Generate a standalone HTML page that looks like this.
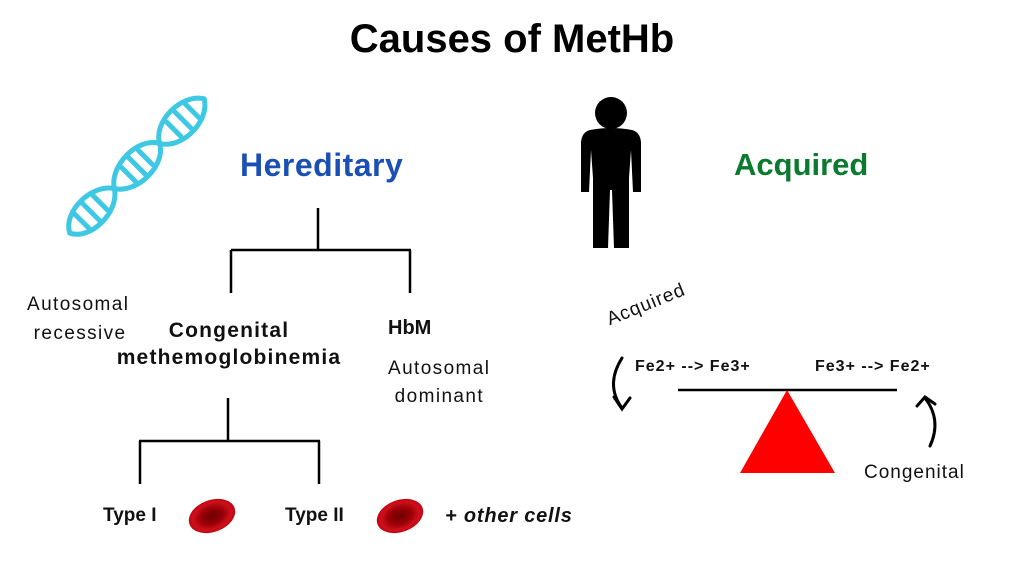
<!DOCTYPE html>
<html><head><style>
body{margin:0;width:1024px;height:576px;background:#fff;overflow:hidden;position:relative;font-family:"Liberation Sans",sans-serif}
.t{position:absolute;white-space:nowrap;color:#111}
</style></head><body>
<svg width="1024" height="576" style="position:absolute;left:0;top:0">
<defs>
<radialGradient id="rbc" cx="50%" cy="50%" r="55%"><stop offset="0" stop-color="#6a0000"/><stop offset="0.45" stop-color="#9b0008"/><stop offset="0.75" stop-color="#d0101a"/><stop offset="1" stop-color="#b00010"/></radialGradient>
</defs>
<text x="512" y="52" text-anchor="middle" font-family="Liberation Sans" font-weight="bold" font-size="40" fill="#000">Causes of MetHb</text>
<!-- DNA -->
<g transform="translate(137 166) rotate(-45)" stroke="#3fc8e4" stroke-width="5" fill="none" stroke-linecap="round">
<path d="M-95,0 C-85,-20 -45,-20 -32,0 C-19,20 21,20 32,0 C43,-20 83,-20 95,0"/>
<path d="M-95,0 C-85,20 -45,20 -32,0 C-19,-20 21,-20 32,0 C43,20 83,20 95,0"/>
<path d="M-78,-10 V10 M-65,-13 V13 M-52,-10 V10 M-12,-10 V10 M0,-13 V13 M12,-10 V10 M52,-10 V10 M65,-13 V13 M78,-10 V10"/>
</g>
<!-- person -->
<g fill="#000">
<circle cx="611" cy="113" r="16"/>
<path d="M590 130 Q611 126 632 130 Q640 132 641 142 L641 192 L633 192 L631 150 L629 178 L629 248 L614 248 L612 190 L610 190 L608 248 L593 248 L593 178 L591 150 L589 192 L581 192 L581 142 Q582 132 590 130Z"/>
</g>
<g stroke="#000" stroke-width="2.5" fill="none">
<path d="M318 208 V250 M231 250 H411 M231 250 V293 M410 250 V293"/>
<path d="M228 398 V441 M139 441 H320 M140 441 V484 M319 441 V484"/>
<path d="M678 390 H897"/>
</g>
<g stroke="#000" stroke-width="3" fill="none" stroke-linecap="round">
<path d="M622 358 Q605 385 622 408"/>
<path d="M614 397 L622 409 L630 398"/>
<path d="M930 446 Q942 420 925 398"/>
<path d="M917 406 L925 397 L935 404"/>
</g>
<polygon points="787,390 740,473 835,473" fill="#ff0000"/>
<ellipse cx="212" cy="516" rx="24" ry="16" transform="rotate(-20 212 516)" fill="url(#rbc)"/>
<ellipse cx="400" cy="516" rx="24" ry="16" transform="rotate(-20 400 516)" fill="url(#rbc)"/>
</svg>
<div class="t" style="left:240px;top:147px;font-size:32px;font-weight:bold;color:#1a4fb5;letter-spacing:0.5px">Hereditary</div>
<div class="t" style="left:734px;top:147px;font-size:31px;font-weight:bold;color:#0a7a2e">Acquired</div>
<div class="t" style="left:27px;top:290px;font-size:19px;line-height:29px;letter-spacing:1.4px">Autosomal<br>&nbsp;recessive</div>
<div class="t" style="left:100px;top:317px;width:258px;text-align:center;font-size:21px;font-weight:bold;line-height:27px;letter-spacing:1.2px">Congenital<br>methemoglobinemia</div>
<div class="t" style="left:388px;top:317px;font-size:20px;font-weight:bold">HbM</div>
<div class="t" style="left:388px;top:355px;font-size:19px;line-height:28px;letter-spacing:1.4px">Autosomal<br>&nbsp;dominant</div>
<div class="t" style="left:103px;top:505px;font-size:19px;font-weight:bold">Type I</div>
<div class="t" style="left:285px;top:505px;font-size:19px;font-weight:bold">Type II</div>
<div class="t" style="left:445px;top:505px;font-size:20px;font-weight:bold;font-style:italic;letter-spacing:0.8px">+ other cells</div>
<div class="t" style="left:635px;top:358px;font-size:16px;font-weight:bold;letter-spacing:1px">Fe2+ --&gt; Fe3+</div>
<div class="t" style="left:815px;top:358px;font-size:16px;font-weight:bold;letter-spacing:1px">Fe3+ --&gt; Fe2+</div>
<div class="t" style="left:612px;top:309px;font-size:19px;letter-spacing:1px;transform:rotate(-22deg);transform-origin:left bottom">Acquired</div>
<div class="t" style="left:864px;top:462px;font-size:19px;letter-spacing:1px">Congenital</div>
</body></html>
